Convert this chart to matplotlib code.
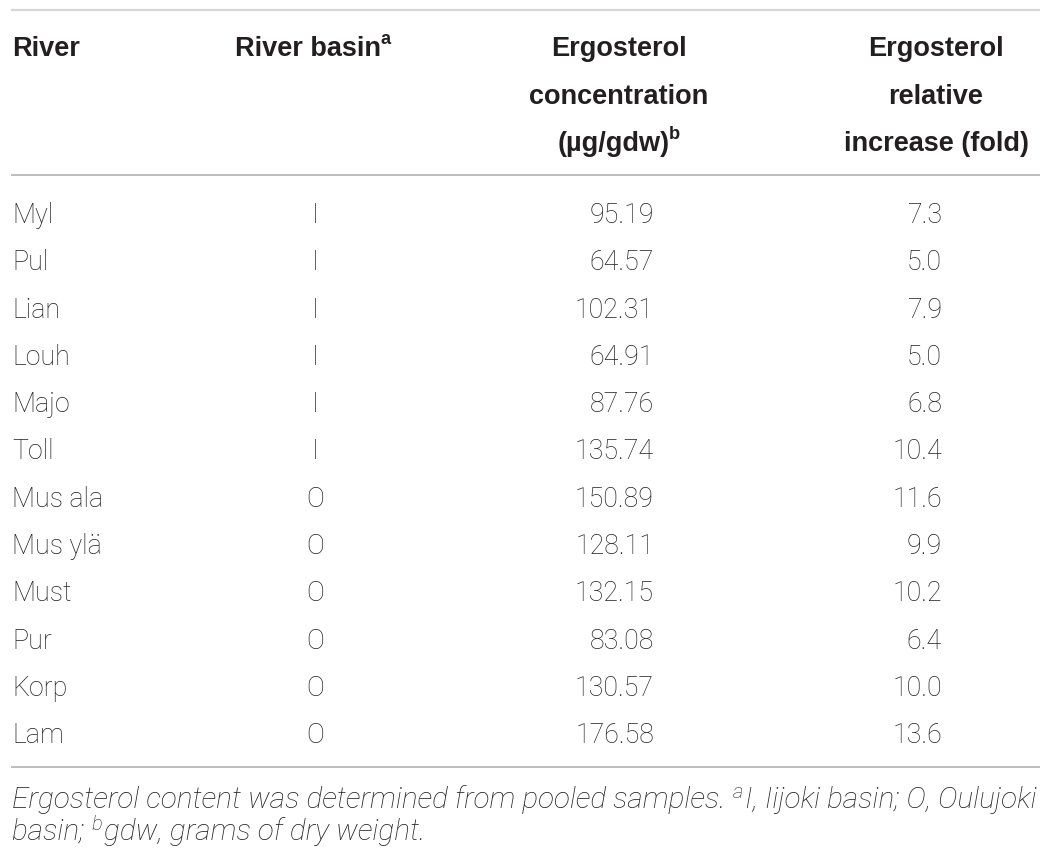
import matplotlib
matplotlib.use("Agg")
import matplotlib.pyplot as plt

# Table data
rivers = ["Myl", "Pul", "Lian", "Louh", "Majo", "Toll",
          "Mus ala", "Mus ylä", "Must", "Pur", "Korp", "Lam"]
basins = ["I", "I", "I", "I", "I", "I", "O", "O", "O", "O", "O", "O"]
conc = [95.19, 64.57, 102.31, 64.91, 87.76, 135.74,
        150.89, 128.11, 132.15, 83.08, 130.57, 176.58]
fold = [7.3, 5.0, 7.9, 5.0, 6.8, 10.4, 11.6, 9.9, 10.2, 6.4, 10.0, 13.6]

head_river = "River"
head_basin = ["River basin", "a"]
head_conc = ["Ergosterol", "concentration", "(\u00b5g/gdw)", "b"]
head_fold = ["Ergosterol", "relative", "increase (fold)"]
note_runs = [("Ergosterol content was determined from pooled samples. ", False),
             ("a", True), ("I, Iijoki basin; O, Oulujoki", False)]
note_runs2 = [("basin; ", False), ("b", True), ("gdw, grams of dry weight.", False)]

txt = "#231f20"
head_font = "Liberation Sans"
body_font = "Roboto"
body_size = 19.3
head_size = 19.5
note_size = 21.4

fig = plt.figure(figsize=(10.51, 8.62), dpi=100)
ax = fig.add_axes([0, 0, 1, 1])
ax.set_xlim(0, 1051)
ax.set_ylim(862, 0)
ax.axis("off")
renderer = fig.canvas.get_renderer()


def width(s, **kw):
    t = ax.text(0, 0, s, **kw)
    w = t.get_window_extent(renderer).width
    t.remove()
    return w


def space_w(**kw):
    return width("a a", **kw) - width("aa", **kw)


def sup_center(x, y, main, sup, size):
    kw = dict(family=head_font, fontsize=size, fontweight="bold")
    skw = dict(family=head_font, fontsize=size * 0.68, fontweight="bold")
    wm = width(main, **kw) - 1
    ws = width(sup, **skw)
    x0 = x - (wm + ws) / 2
    ax.text(x0, y, main, ha="left", va="baseline", color=txt, **kw)
    ax.text(x0 + wm, y - 12, sup, ha="left", va="baseline", color=txt, **skw)


def runs_line(x, y, runs, size):
    kw = dict(family=body_font, fontsize=size, style="italic", fontweight="light")
    skw = dict(family=body_font, fontsize=size * 0.68, style="italic", fontweight="light")
    for s, is_sup in runs:
        k = skw if is_sup else kw
        ax.text(x, y - (10 if is_sup else 0), s, ha="left", va="baseline",
                color=txt, **k)
        w = width(s.rstrip(" "), **k)
        if s.endswith(" "):
            w += space_w(**k) * (len(s) - len(s.rstrip(" ")))
        x += w + (2 if is_sup else 0)


# rules
ax.hlines(11, 11, 1040, color="#d6d6d6", lw=1.6)
ax.hlines(176, 11, 1040, color="#ababab", lw=1.1)
ax.hlines(768, 11, 1040, color="#ababab", lw=1.1)

# header
hb = [56, 104, 151]
hkw = dict(family=head_font, fontsize=head_size, fontweight="bold", color=txt, va="baseline")
ax.text(12, hb[0], head_river, ha="left", **hkw)
sup_center(313, hb[0], head_basin[0], head_basin[1], head_size)
ax.text(619, hb[0], head_conc[0], ha="center", **hkw)
ax.text(619, hb[1], head_conc[1], ha="center", **hkw)
sup_center(619, hb[2], head_conc[2], head_conc[3], head_size)
for i, s in enumerate(head_fold):
    ax.text(936, hb[i], s, ha="center", **hkw)

# body
bkw = dict(family=body_font, fontsize=body_size, fontweight="light", color=txt, va="baseline")
for i in range(len(rivers)):
    y = 223 + i * 47.3
    ax.text(12, y, rivers[i], ha="left", **bkw)
    ax.text(315, y, basins[i], ha="center", **bkw)
    ax.text(654, y, f"{conc[i]:.2f}", ha="right", **bkw)
    ax.text(942, y, f"{fold[i]:.1f}", ha="right", **bkw)

# footnote
runs_line(12, 808, note_runs, note_size)
runs_line(12, 840, note_runs2, note_size)

fig.savefig("out.png", dpi=100)
